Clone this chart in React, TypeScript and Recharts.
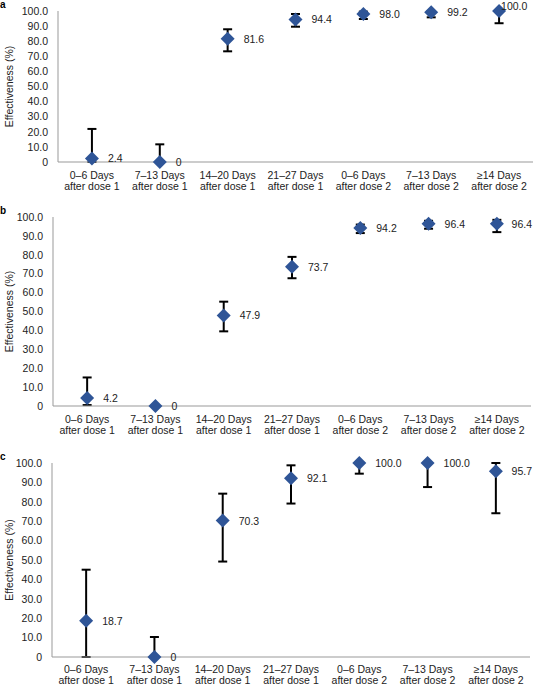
import React from "react";
import { ComposedChart, Scatter, XAxis, YAxis, ErrorBar, LabelList } from "recharts";

const FONT = '"Liberation Sans", Arial, Helvetica, sans-serif';
const DIAMOND = "#2F5597";
const AXIS = "#999999";
const FS = 10.5;
const CHART_W = 533;

const categories = [
  "0–6 Days\nafter dose 1",
  "7–13 Days\nafter dose 1",
  "14–20 Days\nafter dose 1",
  "21–27 Days\nafter dose 1",
  "0–6 Days\nafter dose 2",
  "7–13 Days\nafter dose 2",
  "≥14 Days\nafter dose 2",
];
const yTicks = [0, 10, 20, 30, 40, 50, 60, 70, 80, 90, 100];

// panel a
const effA = [2.4, 0, 81.6, 94.4, 98.0, 99.2, 100.0];
const lowA = [0, 0, 73.3, 89.6, 94.7, 95.8, 91.9];
const highA = [21.9, 11.7, 87.9, 98.0, 99.6, 100, 100];

// panel b
const effB = [4.2, 0, 47.9, 73.7, 94.2, 96.4, 96.4];
const lowB = [0.5, 0, 39.5, 67.6, 91.5, 93.8, 92.0];
const highB = [15.1, 0, 55.2, 78.9, 96.0, 98.0, 98.5];

// panel c
const effC = [18.7, 0, 70.3, 92.1, 100.0, 100.0, 95.7];
const lowC = [0, 0, 49.2, 79.1, 94.5, 87.6, 74.1];
const highC = [45.0, 10.3, 84.2, 98.8, 100, 100, 100];

const fmt = (v: number) => (v === 0 ? "0" : v.toFixed(1));

const buildRows = (eff: number[], low: number[], high: number[]) =>
  categories.map((name, i) => ({
    name,
    value: eff[i],
    err: [eff[i] - low[i], high[i] - eff[i]],
  }));

const makeTick = (gap: number) => (props: any) => {
  const { x, y, payload } = props;
  const [l1, l2] = String(payload.value).split("\n");
  return (
    <text x={x} y={y} textAnchor="middle" fontSize={FS} fill="#222" fontFamily={FONT}>
      <tspan x={x} dy={gap - 1}>{l1}</tspan>
      <tspan x={x} dy={gap}>{l2}</tspan>
    </text>
  );
};

const Diamond = (props: any) => {
  const { cx, cy } = props;
  const r = 7;
  return (
    <polygon
      points={`${cx},${cy - r} ${cx + r},${cy} ${cx},${cy + r} ${cx - r},${cy}`}
      fill={DIAMOND}
    />
  );
};

// rough Arial width: digits 0.556em, period 0.278em
const textWidth = (s: string) =>
  s.split("").reduce((w, ch) => w + (ch === "." ? 0.278 : 0.556) * FS, 0);

// value label to the right of the diamond; pulled in at the right edge,
// and tucked above the diamond when there is no room beside it
const ValueLabel = (props: any) => {
  const { x, y, width, height, value } = props;
  const text = fmt(Number(value));
  const cx = x + width / 2;
  const cy = y + height / 2;
  const w = textWidth(text);
  let tx = cx + 16;
  let ty = cy;
  if (tx + w > CHART_W - 1) {
    tx = CHART_W - 1 - w;
    if (tx < cx + 9) {
      tx = cx + 2;
      ty = cy - 5.5;
    }
  }
  return (
    <text x={tx} y={ty} dominantBaseline="central" fontSize={FS} fill="#222" fontFamily={FONT}>
      {text}
    </text>
  );
};

type PanelProps = {
  letter: string;
  letterTop: number;
  top: number;
  height: number;
  marginTop: number;
  marginBottom: number;
  marginRight: number;
  axisX: number;
  xAxisHeight: number;
  lineGap: number;
  rows: { name: string; value: number; err: number[] }[];
};

function Panel(p: PanelProps) {
  const Tick = makeTick(p.lineGap);
  return (
    <>
      <div
        style={{
          position: "absolute",
          left: 0,
          top: p.letterTop,
          fontFamily: FONT,
          fontWeight: 700,
          fontSize: 10,
          lineHeight: "10px",
          color: "#000",
        }}
      >
        {p.letter}
      </div>
      <div style={{ position: "absolute", left: 0, top: p.top }}>
        <ComposedChart
          width={CHART_W}
          height={p.height}
          data={p.rows}
          margin={{ top: p.marginTop, right: p.marginRight, bottom: p.marginBottom, left: 0 }}
          style={{ overflow: "visible" }}
        >
          <XAxis
            dataKey="name"
            scale="band"
            interval={0}
            height={p.xAxisHeight}
            tickLine={false}
            tickMargin={0}
            axisLine={{ stroke: AXIS, strokeWidth: 1 }}
            tick={<Tick />}
          />
          <YAxis
            type="number"
            domain={[0, 100]}
            ticks={yTicks}
            interval={0}
            width={p.axisX}
            tickLine={false}
            tickMargin={4}
            axisLine={{ stroke: AXIS, strokeWidth: 1 }}
            tickFormatter={fmt}
            tick={{ fontSize: FS, fill: "#222", fontFamily: FONT }}
            label={{
              content: (lp: any) => {
                const vb = lp.viewBox || {};
                const cx = 9;
                const cy = vb.y + vb.height / 2;
                return (
                  <text
                    x={cx}
                    y={cy}
                    transform={`rotate(-90 ${cx} ${cy})`}
                    textAnchor="middle"
                    dominantBaseline="central"
                    fontSize={FS}
                    fill="#222"
                    fontFamily={FONT}
                  >
                    Effectiveness (%)
                  </text>
                );
              },
            }}
          />
          <Scatter dataKey="value" shape={<Diamond />} isAnimationActive={false}>
            <ErrorBar dataKey="err" direction="y" width={4.5} strokeWidth={2} stroke="#000" />
            <LabelList dataKey="value" content={<ValueLabel />} />
          </Scatter>
        </ComposedChart>
      </div>
    </>
  );
}

export default function App() {
  return (
    <div style={{ position: "absolute", left: 0, top: 0, width: 533, height: 685, background: "#fff" }}>
      <Panel
        letter="a"
        letterTop={0}
        top={0}
        height={200}
        marginTop={11}
        marginBottom={4}
        marginRight={0}
        axisX={58}
        xAxisHeight={34}
        lineGap={11.5}
        rows={buildRows(effA, lowA, highA)}
      />
      <Panel
        letter="b"
        letterTop={206}
        top={200}
        height={240}
        marginTop={17}
        marginBottom={0}
        marginRight={2}
        axisX={53}
        xAxisHeight={34}
        lineGap={11.5}
        rows={buildRows(effB, lowB, highB)}
      />
      <Panel
        letter="c"
        letterTop={452}
        top={440}
        height={245}
        marginTop={23}
        marginBottom={0}
        marginRight={3}
        axisX={52}
        xAxisHeight={28}
        lineGap={11}
        rows={buildRows(effC, lowC, highC)}
      />
    </div>
  );
}
